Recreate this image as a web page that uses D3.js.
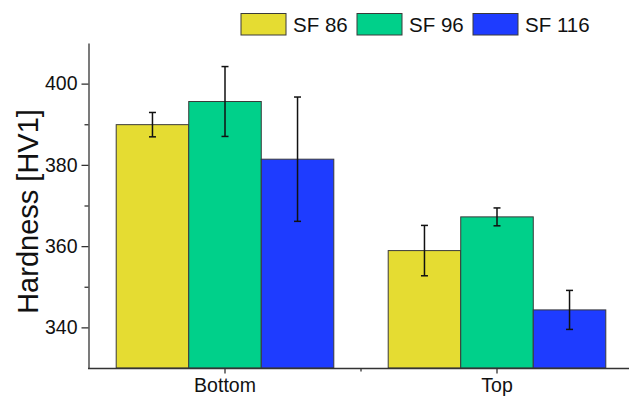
<!DOCTYPE html>
<html>
<head>
<meta charset="utf-8">
<script src="https://cdn.jsdelivr.net/npm/d3@7"></script>
<style>
  html, body { margin: 0; padding: 0; background: #fff; }
  svg { display: block; font-family: "Liberation Sans", Arial, sans-serif; }
</style>
</head>
<body>
<svg id="chart" width="629" height="397"></svg>
<script>
// Hardness measurements by position and sample series
const positions = ["Bottom", "Top"];
const seriesNames = ["SF 86", "SF 96", "SF 116"];
const seriesColors = ["#e5dc32", "#00d08a", "#1e3cff"];
const sf86 = [389.9, 358.9];
const sf96 = [395.6, 367.2];
const sf116 = [381.4, 344.3];
const sf86Err = [3.0, 6.2];
const sf96Err = [8.6, 2.2];
const sf116Err = [15.3, 4.8];
const yMajorTicks = [340, 360, 380, 400];
const yMinorTicks = [350, 370, 390];

const seriesValues = [sf86, sf96, sf116];
const seriesErrors = [sf86Err, sf96Err, sf116Err];

const svg = d3.select("#chart");
const axisColor = "#333";

const y = d3.scaleLinear().domain([330, 410]).range([368, 43]);
const x = d3.scaleBand().domain(positions).range([89, 633]).paddingInner(0).paddingOuter(0);
const groupFrac = 0.8;
const xs = d3.scaleBand().domain(seriesNames)
  .range([0, x.bandwidth() * groupFrac]);

const rows = [];
positions.forEach((p, i) => {
  seriesNames.forEach((s, j) => {
    rows.push({ pos: p, series: s, idx: j, value: seriesValues[j][i], err: seriesErrors[j][i] });
  });
});
const barX = d => x(d.pos) + x.bandwidth() * (1 - groupFrac) / 2 + xs(d.series);

// Bars
svg.append("g").selectAll("rect").data(rows).join("rect")
  .attr("x", d => barX(d))
  .attr("y", d => y(d.value))
  .attr("width", xs.bandwidth())
  .attr("height", d => y(330) - y(d.value))
  .attr("fill", d => seriesColors[d.idx])
  .attr("stroke", "#3a3a3a")
  .attr("stroke-width", 1);

// Error bars
const eb = svg.append("g").attr("stroke", "#111").attr("stroke-width", 1.5);
rows.forEach(d => {
  const cx = barX(d) + xs.bandwidth() / 2;
  const top = y(d.value + d.err), bot = y(d.value - d.err);
  eb.append("line").attr("x1", cx).attr("x2", cx).attr("y1", top).attr("y2", bot);
  eb.append("line").attr("x1", cx - 3.5).attr("x2", cx + 3.5).attr("y1", top).attr("y2", top);
  eb.append("line").attr("x1", cx - 3.5).attr("x2", cx + 3.5).attr("y1", bot).attr("y2", bot);
});

// Y axis
const yAxisG = svg.append("g").attr("transform", "translate(88.5,0)")
  .call(d3.axisLeft(y).tickValues(yMajorTicks).tickSize(7).tickPadding(4).tickSizeOuter(0));
yAxisG.select(".domain").attr("stroke", axisColor).attr("stroke-width", 1.3);
yAxisG.selectAll(".tick line").attr("stroke", axisColor).attr("stroke-width", 1.3);
yAxisG.selectAll(".tick text").attr("fill", "#111").style("font-size", "19.5px")
  .style("font-family", "'Liberation Sans', Arial, sans-serif");
svg.append("g").attr("transform", "translate(88.5,0)")
  .call(d3.axisLeft(y).tickValues(yMinorTicks).tickSize(4).tickFormat(""))
  .call(g => g.select(".domain").remove())
  .selectAll(".tick line").attr("stroke", axisColor).attr("stroke-width", 1.3);

// X axis
const xAxisG = svg.append("g").attr("transform", "translate(0,368.5)")
  .call(d3.axisBottom(x).tickSize(5).tickPadding(5).tickSizeOuter(0));
xAxisG.select(".domain").attr("stroke", axisColor).attr("stroke-width", 1.3)
  .attr("d", "M88,0H633");
xAxisG.selectAll(".tick line").attr("stroke", axisColor).attr("stroke-width", 1.3);
xAxisG.selectAll(".tick text").attr("fill", "#111").style("font-size", "19.5px")
  .style("font-family", "'Liberation Sans', Arial, sans-serif");
// small divider tick between groups
svg.append("line")
  .attr("x1", x("Top")).attr("x2", x("Top"))
  .attr("y1", 368.5).attr("y2", 371.5)
  .attr("stroke", axisColor).attr("stroke-width", 1.3);

// Y axis title
svg.append("text")
  .attr("transform", `translate(37.5,${(y(330) + y(410)) / 2 + 6}) rotate(-90)`)
  .attr("text-anchor", "middle")
  .attr("fill", "#111")
  .style("font-size", "29px")
  .text("Hardness [HV1]");

// Legend
const legendX = [241, 357, 473];
const legend = svg.append("g");
seriesNames.forEach((s, j) => {
  legend.append("rect")
    .attr("x", legendX[j]).attr("y", 13.5)
    .attr("width", 45).attr("height", 21.5)
    .attr("fill", seriesColors[j])
    .attr("stroke", "#3a3a3a").attr("stroke-width", 1);
  legend.append("text")
    .attr("x", legendX[j] + 52).attr("y", 31.5)
    .attr("fill", "#111")
    .style("font-size", "20.5px")
    .text(s);
});
</script>
</body>
</html>
